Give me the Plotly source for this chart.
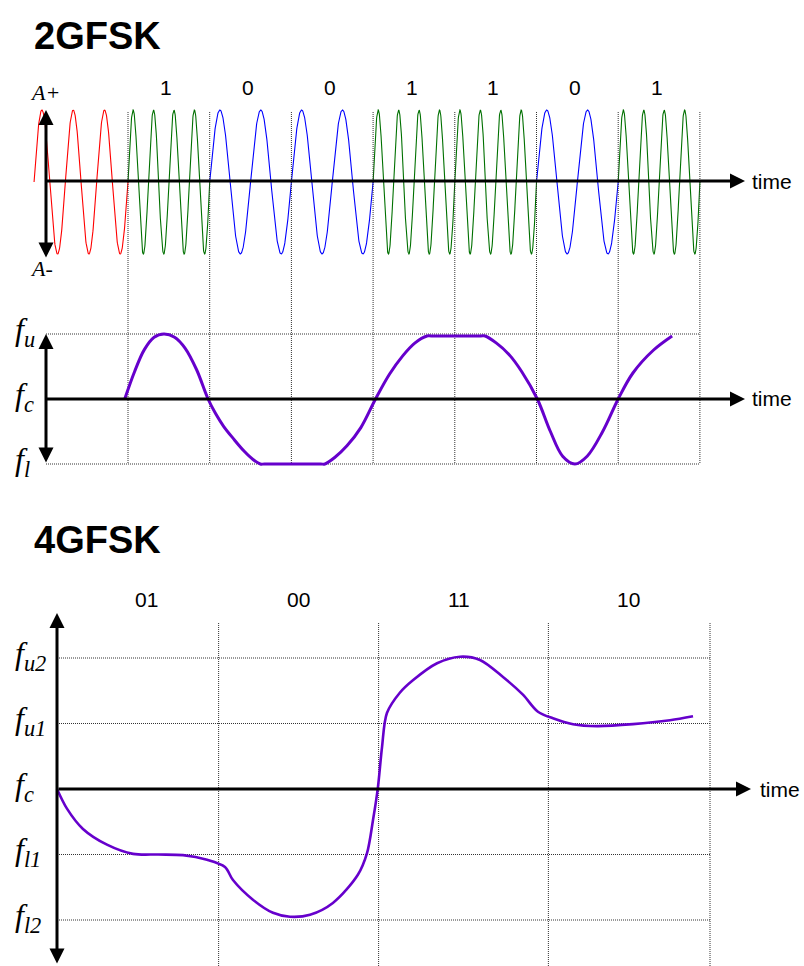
import numpy as np
import plotly.graph_objects as go

# ---------------- data ----------------
# 2GFSK: bit stream and carrier cycles per bit
bits = [1, 0, 0, 1, 1, 0, 1]
bit_labels = ["1", "0", "0", "1", "1", "0", "1"]
cycles_per_bit = {1: 4, 0: 2}
bit_colors = {1: "#007000", 0: "#0000ff"}
lead_start = -1.15          # red lead-in carrier (in bit periods)
lead_cycles = 3
lead_color = "#ff0000"

# 2GFSK instantaneous frequency (t in bit periods; fl=-1, fc=0, fu=+1)
f2_t = [-0.04, 0.08, 0.20, 0.32, 0.44, 0.57, 0.70, 0.84, 0.98,
        1.07, 1.17, 1.29, 1.42, 1.53, 1.62,
        1.67, 2.36, 2.41,
        2.53, 2.68, 2.85, 3.03, 3.20, 3.36, 3.51, 3.66,
        3.71, 4.32, 4.37,
        4.51, 4.66, 4.82, 5.01, 5.17, 5.32, 5.47,
        5.62, 5.81, 6.00, 6.18, 6.43, 6.66]
f2_f = [0.0, 0.42, 0.76, 0.95, 1.0, 0.95, 0.78, 0.45, 0.0,
        -0.22, -0.42, -0.61, -0.80, -0.93, -1.0,
        -1.0, -1.0, -1.0,
        -0.90, -0.72, -0.44, 0.0, 0.38, 0.66, 0.86, 0.97,
        0.97, 0.97, 0.97,
        0.86, 0.69, 0.42, 0.0, -0.50, -0.88, -1.0,
        -0.88, -0.50, 0.0, 0.40, 0.75, 0.97]
levels2 = [1, 0, -1]
level2_labels = ["<i>f<sub>u</sub></i>", "<i>f<sub>c</sub></i>", "<i>f<sub>l</sub></i>"]

# 4GFSK: symbols and instantaneous frequency (t in symbol periods; levels -2..2)
symbols = ["01", "00", "11", "10"]
sym_edges = [0.99, 1.97, 3.01, 4.0]
sym_label_t = [0.55, 1.48, 2.46, 3.50]
f4_t = [0.0, 0.061, 0.159, 0.306, 0.466, 0.62, 0.772, 0.919, 1.029, 1.078, 1.20,
        1.323, 1.427, 1.55, 1.69, 1.843, 1.899, 1.936, 1.966, 1.991, 2.021,
        2.10, 2.18, 2.328, 2.469, 2.591, 2.732, 2.854, 2.946, 3.038, 3.161,
        3.308, 3.528, 3.755, 3.896]
f4_f = [0.0, -0.30, -0.61, -0.85, -0.99, -1.0, -1.01, -1.08, -1.19, -1.39, -1.69,
        -1.89, -1.95, -1.92, -1.74, -1.31, -0.98, -0.47, 0.03, 0.64, 1.16,
        1.47, 1.66, 1.92, 2.02, 1.97, 1.71, 1.44, 1.18, 1.08, 0.99,
        0.96, 0.99, 1.05, 1.11]
levels4 = [2, 1, 0, -1, -2]
level4_labels = ["<i>f<sub>u2</sub></i>", "<i>f<sub>u1</sub></i>", "<i>f<sub>c</sub></i>",
                 "<i>f<sub>l1</sub></i>", "<i>f<sub>l2</sub></i>"]

# ---------------- layout geometry (pixels) ----------------
W, H = 804, 966
X0_2, BW_2 = 128, 81.7      # 2GFSK: x px of t=0, px per bit
X0_4, BW_4 = 57, 163.25     # 4GFSK
AMP_C, AMP_S = 182, 72      # waveform centre / px per unit
F2_C, F2_S = 399, 65
F4_C, F4_S = 789, 65.5

PURPLE = "#6600cc"
GRID = dict(color="#333333", width=1, dash="1px,1px")
SERIF = "Liberation Serif, Times New Roman, serif"
SANS = "Liberation Sans, Arial, sans-serif"

fig = go.Figure()

# ---- Panel 1: carrier waveform ----
def carrier(t0, t1, cycles, n=400):
    t = np.linspace(t0, t1, n)
    return t, np.sin(2 * np.pi * cycles * (t - t0) / (t1 - t0))

t, a = carrier(lead_start, 0, lead_cycles)
fig.add_trace(go.Scatter(x=t, y=a, mode="lines", line=dict(color=lead_color, width=1.1),
                         xaxis="x", yaxis="y", hoverinfo="skip"))
for i, b in enumerate(bits):
    t, a = carrier(i, i + 1, cycles_per_bit[b])
    fig.add_trace(go.Scatter(x=t, y=a, mode="lines", line=dict(color=bit_colors[b], width=1.1),
                             xaxis="x", yaxis="y", hoverinfo="skip"))

y1_lo, y1_hi = (AMP_C - 290) / AMP_S, (AMP_C - 60) / AMP_S
y2_lo, y2_hi = (F2_C - 480) / F2_S, (F2_C - 290) / F2_S

# bit boundaries (panel 1 part and panel 2 part)
vx1, vy1, vx2, vy2 = [], [], [], []
for k in range(len(bits) + 1):
    vx1 += [k, k, None]; vy1 += [(AMP_C - 112) / AMP_S, y1_lo, None]
    vx2 += [k, k, None]; vy2 += [y2_hi, -1, None]
fig.add_trace(go.Scatter(x=vx1, y=vy1, mode="lines", line=GRID, xaxis="x", yaxis="y", hoverinfo="skip"))
fig.add_trace(go.Scatter(x=vx2, y=vy2, mode="lines", line=GRID, xaxis="x", yaxis="y2", hoverinfo="skip"))

# ---- Panel 2: 2GFSK frequency ----
t_axis2 = (46 - X0_2) / BW_2
hx, hy = [], []
for lv in [1, -1]:
    hx += [t_axis2, len(bits), None]; hy += [lv, lv, None]
fig.add_trace(go.Scatter(x=hx, y=hy, mode="lines", line=GRID, xaxis="x", yaxis="y2", hoverinfo="skip"))
fig.add_trace(go.Scatter(x=f2_t, y=f2_f, mode="lines", line=dict(color=PURPLE, width=3, shape="spline", smoothing=1.0),
                         xaxis="x", yaxis="y2", hoverinfo="skip"))

# ---- Panel 3: 4GFSK frequency ----
y3_lo, y3_hi = (F4_C - 966) / F4_S, (F4_C - 570) / F4_S
vx3, vy3 = [], []
for e in sym_edges:
    vx3 += [e, e, None]; vy3 += [(F4_C - 623) / F4_S, y3_lo, None]
for lv in [2, 1, -1, -2]:
    vx3 += [0, sym_edges[-1], None]; vy3 += [lv, lv, None]
fig.add_trace(go.Scatter(x=vx3, y=vy3, mode="lines", line=GRID, xaxis="x2", yaxis="y3", hoverinfo="skip"))
fig.add_trace(go.Scatter(x=f4_t, y=f4_f, mode="lines", line=dict(color=PURPLE, width=2.6, shape="spline", smoothing=0.9),
                         xaxis="x2", yaxis="y3", hoverinfo="skip"))

# ---------------- annotations ----------------
ann = []

def arrow(xref, yref, x, y, ax, ay, both=False):
    d = dict(xref=xref, yref=yref, axref=xref, ayref=yref, x=x, y=y, ax=ax, ay=ay,
             text="", showarrow=True, arrowhead=2, arrowsize=1.0, arrowwidth=3,
             arrowcolor="black", standoff=0)
    if both:
        d.update(arrowside="end+start", startarrowhead=2, startarrowsize=1.0, startstandoff=0)
    return d

t_axis1 = (46 - X0_2) / BW_2
t_tip = (745 - X0_2) / BW_2
ann.append(arrow("x", "y", t_tip, (AMP_C - 181) / AMP_S, (44 - X0_2) / BW_2, (AMP_C - 181) / AMP_S))
ann.append(arrow("x", "y", t_axis1, (AMP_C - 110) / AMP_S, t_axis1, (AMP_C - 259) / AMP_S, both=True))
ann.append(arrow("x", "y2", t_tip, 0, t_axis2 - 0.01, 0))
ann.append(arrow("x", "y2", t_axis2, 1, t_axis2, -1, both=True))
ann.append(arrow("x2", "y3", (751 - X0_4) / BW_4, 0, 0, 0))
ann.append(arrow("x2", "y3", 0, (F4_C - 613) / F4_S, 0, (F4_C - 965) / F4_S, both=True))

# titles
for txt, py in [("2GFSK", 36), ("4GFSK", 540)]:
    ann.append(dict(xref="paper", yref="paper", x=32 / W, y=1 - py / H, text="<b>%s</b>" % txt,
                    showarrow=False, xanchor="left", yanchor="middle",
                    font=dict(family=SANS, size=38, color="black")))

# "time" labels
ann.append(dict(xref="paper", yref="y", x=750 / W, y=(AMP_C - 181) / AMP_S, text="time", showarrow=False,
                xanchor="left", yanchor="middle", font=dict(family=SANS, size=21, color="black")))
ann.append(dict(xref="paper", yref="y2", x=750 / W, y=0, text="time", showarrow=False,
                xanchor="left", yanchor="middle", font=dict(family=SANS, size=21, color="black")))
ann.append(dict(xref="paper", yref="y3", x=758 / W, y=0, text="time", showarrow=False,
                xanchor="left", yanchor="middle", font=dict(family=SANS, size=21, color="black")))

# bit labels
for i, lab in enumerate(bit_labels):
    ann.append(dict(xref="x", yref="y", x=i + 0.47, y=(AMP_C - 87) / AMP_S, text=lab, showarrow=False,
                    font=dict(family=SANS, size=21, color="black")))
# symbol labels
for st, lab in zip(sym_label_t, symbols):
    ann.append(dict(xref="x2", yref="y3", x=st, y=(F4_C - 599) / F4_S, text=lab, showarrow=False,
                    font=dict(family=SANS, size=21, color="black")))

# amplitude labels
ann.append(dict(xref="paper", yref="y", x=28 / W, y=(AMP_C - 92) / AMP_S, text="<i>A+</i>", showarrow=False,
                xanchor="left", yanchor="middle", font=dict(family=SERIF, size=22, color="black")))
ann.append(dict(xref="paper", yref="y", x=28 / W, y=(AMP_C - 268) / AMP_S, text="<i>A-</i>", showarrow=False,
                xanchor="left", yanchor="middle", font=dict(family=SERIF, size=22, color="black")))

# frequency level labels
for lv, lab in zip(levels2, level2_labels):
    ann.append(dict(xref="paper", yref="y2", x=13 / W, y=lv, text=lab, showarrow=False,
                    xanchor="left", yanchor="middle", yshift=2,
                    font=dict(family=SERIF, size=32, color="black")))
for lv, lab in zip(levels4, level4_labels):
    ann.append(dict(xref="paper", yref="y3", x=13 / W, y=lv, text=lab, showarrow=False,
                    xanchor="left", yanchor="middle", yshift=3,
                    font=dict(family=SERIF, size=32, color="black")))

noax = dict(visible=False, showgrid=False, zeroline=False, fixedrange=True)
fig.update_layout(
    width=W, height=H, margin=dict(l=0, r=0, t=0, b=0),
    paper_bgcolor="white", plot_bgcolor="white", showlegend=False,
    xaxis=dict(domain=[0, 1], range=[-X0_2 / BW_2, (W - X0_2) / BW_2], anchor="y", **noax),
    yaxis=dict(domain=[1 - 290 / H, 1 - 60 / H], range=[y1_lo, y1_hi], anchor="x", **noax),
    yaxis2=dict(domain=[1 - 480 / H, 1 - 290 / H], range=[y2_lo, y2_hi], anchor="x", **noax),
    xaxis2=dict(domain=[0, 1], range=[-X0_4 / BW_4, (W - X0_4) / BW_4], anchor="y3", **noax),
    yaxis3=dict(domain=[0, 1 - 570 / H], range=[y3_lo, y3_hi], anchor="x2", **noax),
    annotations=ann,
)

fig.write_html("out.html", config={"displayModeBar": False},
               post_script="document.body.style.margin='0px';document.body.style.overflow='hidden';")
